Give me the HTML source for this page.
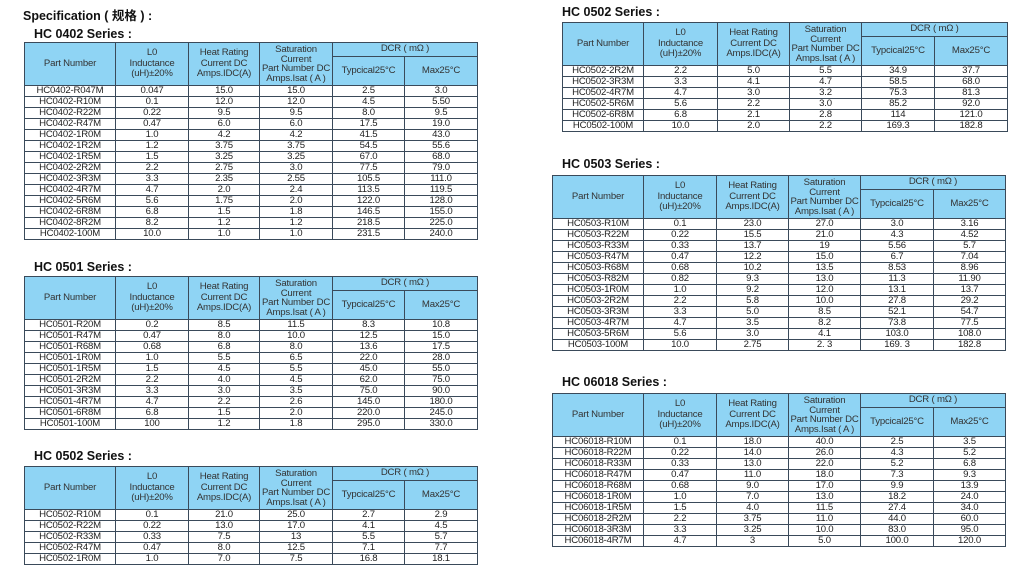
<!DOCTYPE html>
<html><head><meta charset="utf-8"><style>
body{margin:0;width:1029px;height:570px;background:#fff;position:relative;overflow:hidden;font-family:"Liberation Sans","Noto Sans CJK SC",sans-serif;color:#222}
.t{position:absolute;font-weight:bold;font-size:12.5px;color:#111;white-space:nowrap}
table{position:absolute;border-collapse:collapse;table-layout:fixed}
td{border:1px solid #3a4a5a;padding:0;text-align:center;font-size:9.6px;line-height:10px;height:10px;white-space:nowrap;overflow:hidden;letter-spacing:-0.2px;color:#222}
th{border:1px solid #3a4a5a;background:#8fd4f4;font-weight:normal;font-size:9.6px;line-height:10.5px;padding:0;color:#333;letter-spacing:-0.2px;white-space:nowrap}
</style></head><body>
<div class="t" style="left:23px;top:5px;font-size:12.5px">Specification ( 规格 ) :</div>
<div id="c"></div>
<script>
var T=[
{t:"HC 0402 Series :",tx:34,ty:27,x:24,y:42,c:[91,73,71,73,72,73],d:`HC0402-R047M,0.047,15.0,15.0,2.5,3.0
HC0402-R10M,0.1,12.0,12.0,4.5,5.50
HC0402-R22M,0.22,9.5,9.5,8.0,9.5
HC0402-R47M,0.47,6.0,6.0,17.5,19.0
HC0402-1R0M,1.0,4.2,4.2,41.5,43.0
HC0402-1R2M,1.2,3.75,3.75,54.5,55.6
HC0402-1R5M,1.5,3.25,3.25,67.0,68.0
HC0402-2R2M,2.2,2.75,3.0,77.5,79.0
HC0402-3R3M,3.3,2.35,2.55,105.5,111.0
HC0402-4R7M,4.7,2.0,2.4,113.5,119.5
HC0402-5R6M,5.6,1.75,2.0,122.0,128.0
HC0402-6R8M,6.8,1.5,1.8,146.5,155.0
HC0402-8R2M,8.2,1.2,1.2,218.5,225.0
HC0402-100M,10.0,1.0,1.0,231.5,240.0`},
{t:"HC 0501 Series :",tx:34,ty:260,x:24,y:276,c:[91,73,71,73,72,73],d:`HC0501-R20M,0.2,8.5,11.5,8.3,10.8
HC0501-R47M,0.47,8.0,10.0,12.5,15.0
HC0501-R68M,0.68,6.8,8.0,13.6,17.5
HC0501-1R0M,1.0,5.5,6.5,22.0,28.0
HC0501-1R5M,1.5,4.5,5.5,45.0,55.0
HC0501-2R2M,2.2,4.0,4.5,62.0,75.0
HC0501-3R3M,3.3,3.0,3.5,75.0,90.0
HC0501-4R7M,4.7,2.2,2.6,145.0,180.0
HC0501-6R8M,6.8,1.5,2.0,220.0,245.0
HC0501-100M,100,1.2,1.8,295.0,330.0`},
{t:"HC 0502 Series :",tx:34,ty:449,x:24,y:466,c:[91,73,71,73,72,73],d:`HC0502-R10M,0.1,21.0,25.0,2.7,2.9
HC0502-R22M,0.22,13.0,17.0,4.1,4.5
HC0502-R33M,0.33,7.5,13,5.5,5.7
HC0502-R47M,0.47,8.0,12.5,7.1,7.7
HC0502-1R0M,1.0,7.0,7.5,16.8,18.1`},
{t:"HC 0502 Series :",tx:562,ty:5,x:562,y:22,c:[81,74,72,72,73,73],d:`HC0502-2R2M,2.2,5.0,5.5,34.9,37.7
HC0502-3R3M,3.3,4.1,4.7,58.5,68.0
HC0502-4R7M,4.7,3.0,3.2,75.3,81.3
HC0502-5R6M,5.6,2.2,3.0,85.2,92.0
HC0502-6R8M,6.8,2.1,2.8,114,121.0
HC0502-100M,10.0,2.0,2.2,169.3,182.8`},
{t:"HC 0503 Series :",tx:562,ty:157,x:552,y:175,c:[91,73,72,72,73,72],d:`HC0503-R10M,0.1,23.0,27.0,3.0,3.16
HC0503-R22M,0.22,15.5,21.0,4.3,4.52
HC0503-R33M,0.33,13.7,19,5.56,5.7
HC0503-R47M,0.47,12.2,15.0,6.7,7.04
HC0503-R68M,0.68,10.2,13.5,8.53,8.96
HC0503-R82M,0.82,9.3,13.0,11.3,11.90
HC0503-1R0M,1.0,9.2,12.0,13.1,13.7
HC0503-2R2M,2.2,5.8,10.0,27.8,29.2
HC0503-3R3M,3.3,5.0,8.5,52.1,54.7
HC0503-4R7M,4.7,3.5,8.2,73.8,77.5
HC0503-5R6M,5.6,3.0,4.1,103.0,108.0
HC0503-100M,10.0,2.75,2. 3,169. 3,182.8`},
{t:"HC 06018 Series :",tx:562,ty:375,x:552,y:393,c:[91,73,72,72,73,72],d:`HC06018-R10M,0.1,18.0,40.0,2.5,3.5
HC06018-R22M,0.22,14.0,26.0,4.3,5.2
HC06018-R33M,0.33,13.0,22.0,5.2,6.8
HC06018-R47M,0.47,11.0,18.0,7.3,9.3
HC06018-R68M,0.68,9.0,17.0,9.9,13.9
HC06018-1R0M,1.0,7.0,13.0,18.2,24.0
HC06018-1R5M,1.5,4.0,11.5,27.4,34.0
HC06018-2R2M,2.2,3.75,11.0,44.0,60.0
HC06018-3R3M,3.3,3.25,10.0,83.0,95.0
HC06018-4R7M,4.7,3,5.0,100.0,120.0`}];
var h="";
T.forEach(function(o){
 h+='<div class="t" style="left:'+o.tx+'px;top:'+o.ty+'px">'+o.t+'</div>';
 var w=o.c.reduce(function(a,b){return a+b},0);
 h+='<table style="left:'+o.x+'px;top:'+o.y+'px;width:'+w+'px"><colgroup>'+o.c.map(function(c){return '<col style="width:'+c+'px">'}).join('')+'</colgroup>';
 h+='<tr style="height:14px"><th rowspan=2>Part Number</th><th rowspan=2>L0<br>Inductance<br>(uH)±20%</th><th rowspan=2>Heat Rating<br>Current DC<br>Amps.IDC(A)</th><th rowspan=2 style="line-height:9.5px">Saturation<br>Current<br>Part Number DC<br>Amps.Isat ( A )</th><th colspan=2>DCR ( mΩ )</th></tr>';
 h+='<tr style="height:29px"><th>Typcical25°C</th><th>Max25°C</th></tr>';
 o.d.split("\n").forEach(function(r){h+='<tr style="height:11px">'+r.split(",").map(function(v){return '<td>'+v+'</td>'}).join('')+'</tr>'});
 h+='</table>';
});
document.getElementById("c").innerHTML=h;
</script>
</body></html>
